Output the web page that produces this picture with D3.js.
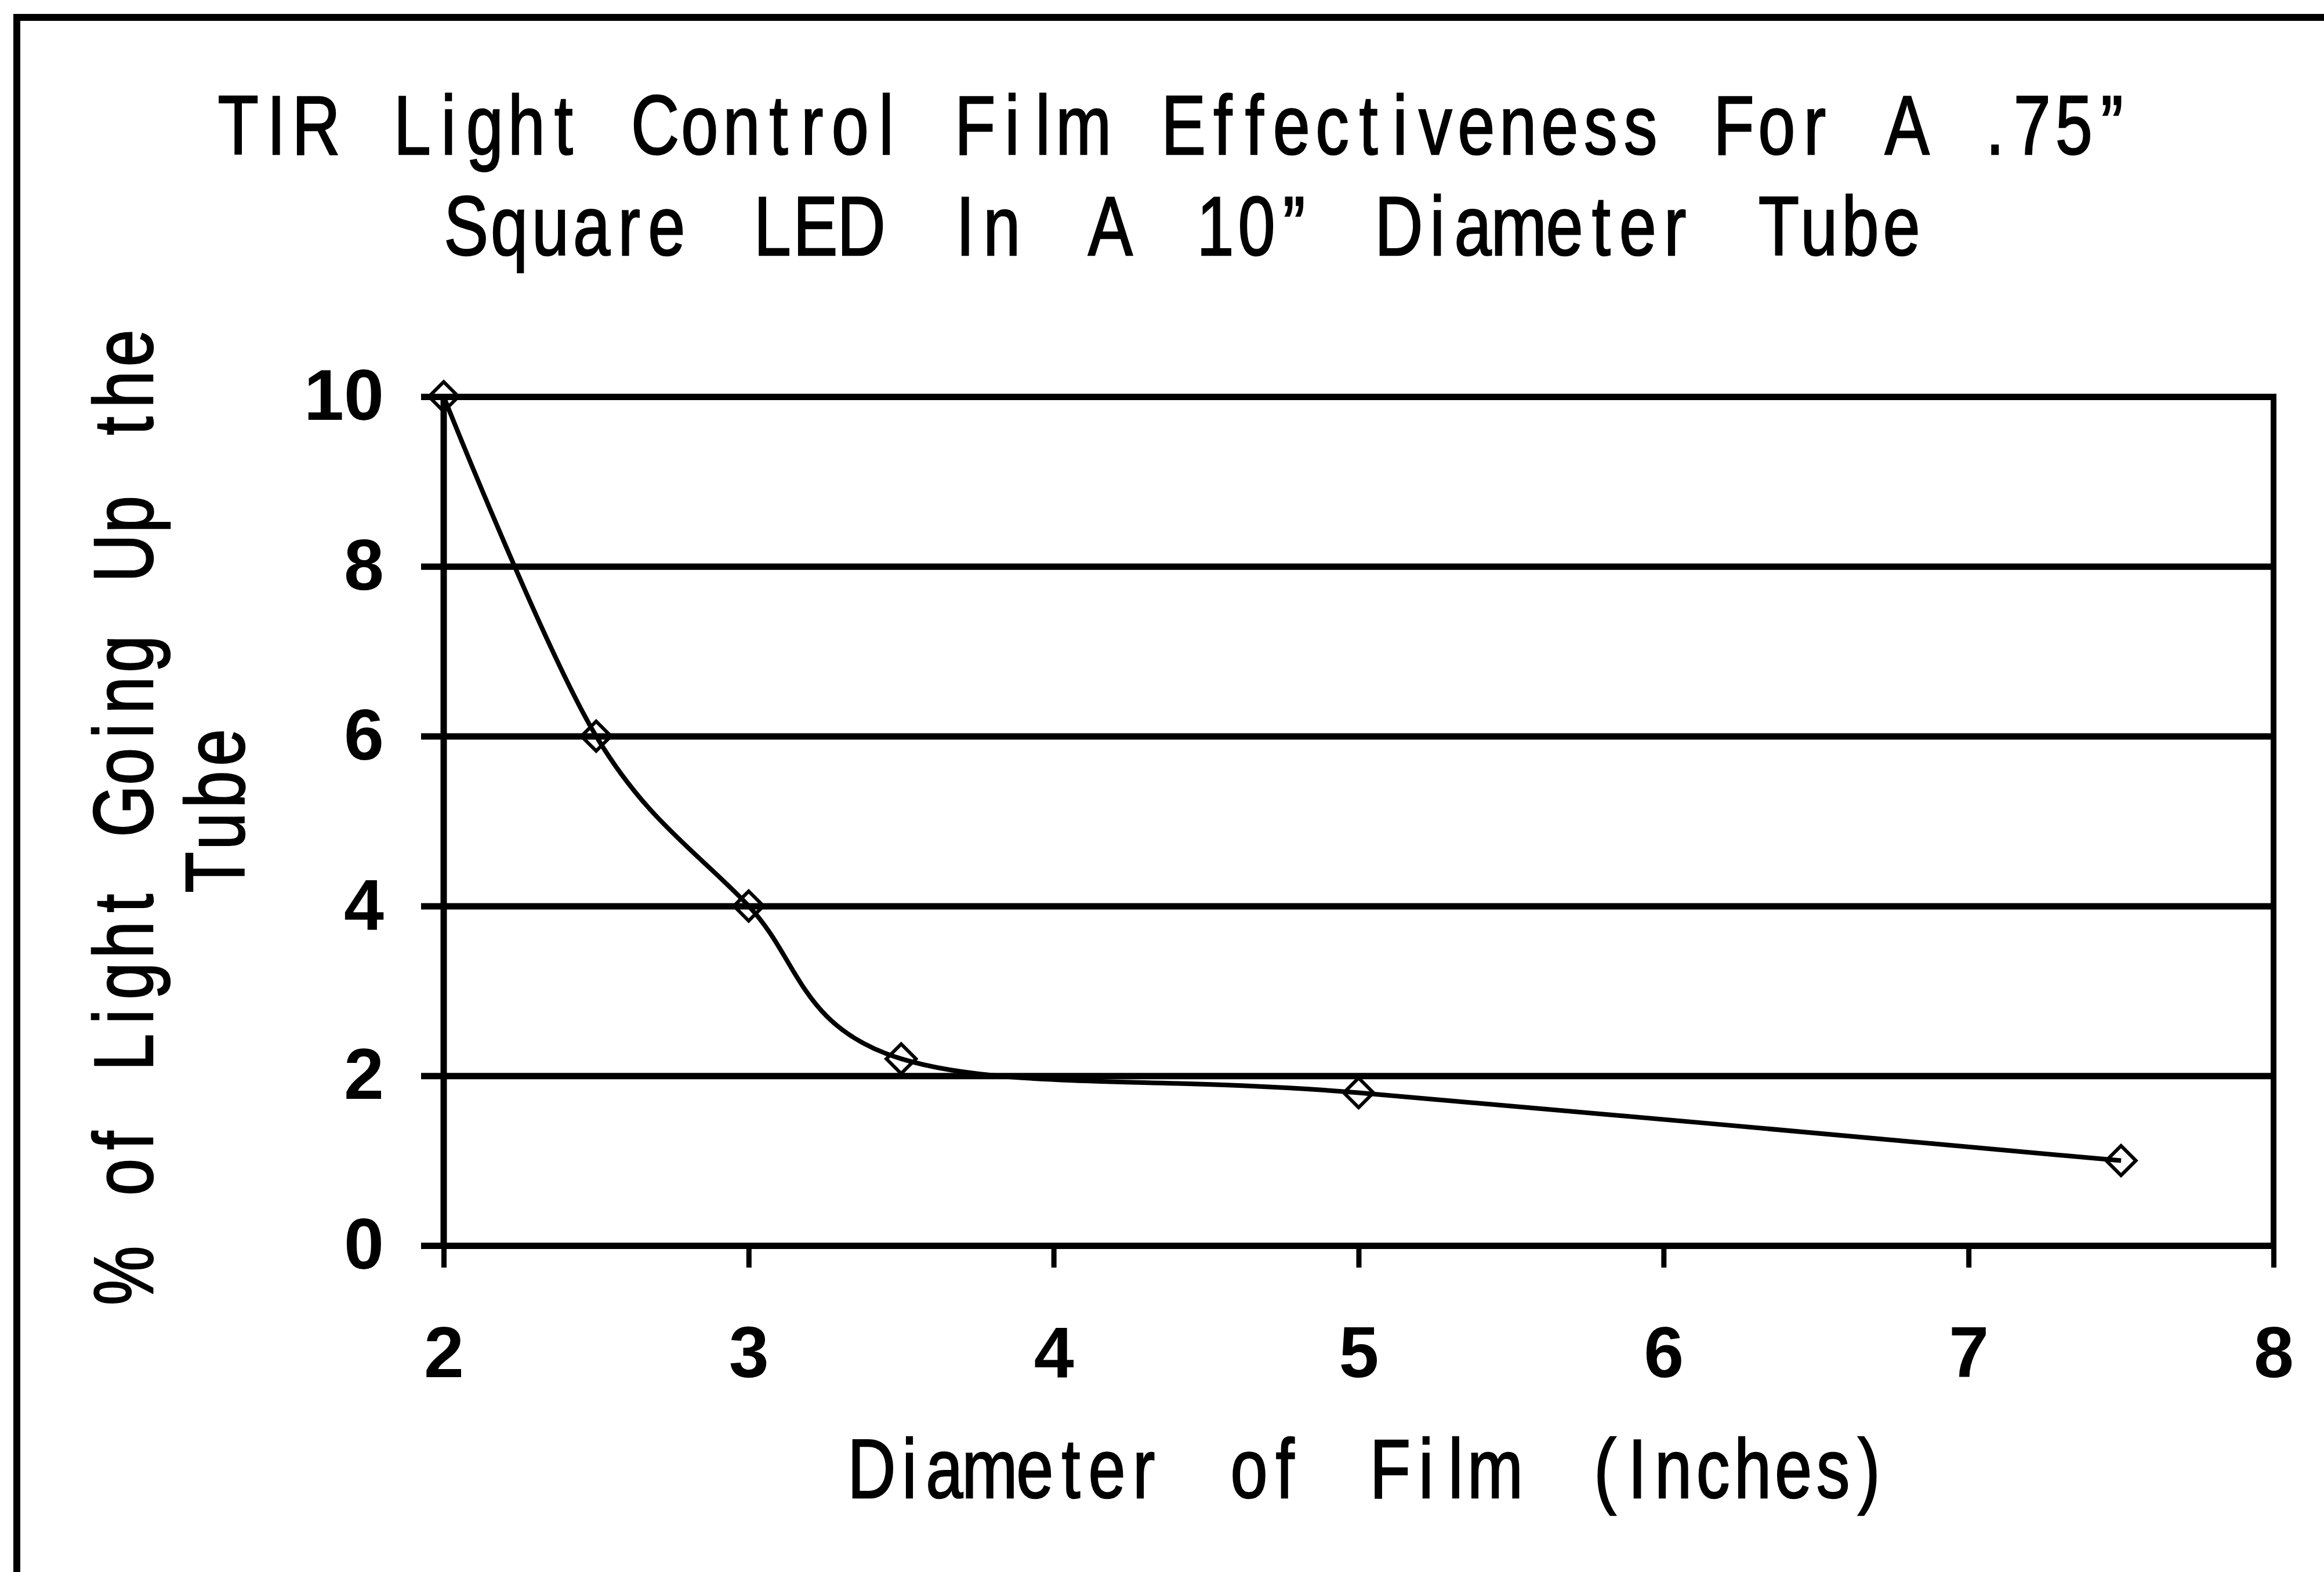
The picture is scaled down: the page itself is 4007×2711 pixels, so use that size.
<!DOCTYPE html>
<html>
<head>
<meta charset="utf-8">
<script src="https://cdn.jsdelivr.net/npm/d3@7"></script>
<style>
  body { margin: 0; background: white; }
  svg { display: block; }
  .lbl { font-family: "Liberation Sans", Arial, sans-serif; font-size: 144px; fill: black; stroke: black; stroke-width: 2.5; }
  .axis text { font-family: "Liberation Sans", Arial, sans-serif; font-weight: bold; font-size: 124px; fill: black; }
</style>
</head>
<body>
<svg id="chart"></svg>
<script>
// data
var diameters = [2, 2.5, 3, 3.5, 5, 7.5]
var lightPct = [10, 6, 4, 2.2, 1.8, 1.0]
var xTicks = [2, 3, 4, 5, 6, 7, 8]
var yTicks = [0, 2, 4, 6, 8, 10]
var titleLines = ["TIR Light Control Film Effectiveness For A .75\u201d", "Square LED In A 10\u201d Diameter Tube"]
var yLabelLines = ["% of Light Going Up the", "Tube"]
var xLabel = "Diameter of Film (Inches)"

var width = 4007
var height = 2711
var narrow = 0.8

var svg = d3.select("#chart")
    .attr("width", width)
    .attr("height", height)

svg.append("rect")
    .attr("width", width).attr("height", height)
    .attr("fill", "white")

// outer frame, runs off the right and bottom edges
svg.append("rect")
    .attr("x", 29).attr("y", 30)
    .attr("width", width + 100).attr("height", height + 100)
    .attr("fill", "none")
    .attr("stroke", "black")
    .attr("stroke-width", 12)

var plotL = 765, plotR = 3920, plotT = 684, plotB = 2148

var x = d3.scaleLinear().domain([2, 8]).range([plotL, plotR])
var y = d3.scaleLinear().domain([0, 10]).range([plotB, plotT])

// horizontal gridlines + y ticks
var yAxis = svg.append("g")
    .attr("class", "axis")
    .attr("transform", "translate(" + (plotL - 39) + ",0)")
    .call(d3.axisLeft(y).tickValues(yTicks).tickSize(-(plotR - plotL + 39)).tickPadding(64).tickFormat(d3.format("d")))
yAxis.select(".domain").remove()
yAxis.selectAll(".tick line").attr("stroke", "black").attr("stroke-width", 11)

// x ticks
var xAxis = svg.append("g")
    .attr("class", "axis")
    .attr("transform", "translate(0," + plotB + ")")
    .call(d3.axisBottom(x).tickValues(xTicks).tickSize(38).tickPadding(101).tickFormat(d3.format("d")))
xAxis.select(".domain").remove()
xAxis.selectAll(".tick line").attr("stroke", "black").attr("stroke-width", 9)

// left axis and right border of the plot box
svg.append("line")
    .attr("x1", x(2)).attr("x2", x(2))
    .attr("y1", y(10)).attr("y2", y(0))
    .attr("stroke", "black").attr("stroke-width", 11)
svg.append("line")
    .attr("x1", x(8)).attr("x2", x(8))
    .attr("y1", y(10) - 5).attr("y2", y(0))
    .attr("stroke", "black").attr("stroke-width", 10)

var pts = diameters.map(function(d, i) { return [d, lightPct[i]] })

var line = d3.line()
    .x(function(d) { return x(d[0]) })
    .y(function(d) { return y(d[1]) })
    .curve(d3.curveCardinal.tension(0))

svg.append("path")
    .datum(pts)
    .attr("d", line)
    .attr("fill", "none")
    .attr("stroke", "black")
    .attr("stroke-width", 8)

var diamond = d3.symbol().type(d3.symbolSquare).size(1300)
svg.selectAll(".marker")
    .data(pts)
    .enter()
    .append("path")
    .attr("class", "marker")
    .attr("d", diamond)
    .attr("transform", function(d) { return "translate(" + x(d[0]) + "," + y(d[1]) + ") rotate(45)" })
    .attr("fill", "none")
    .attr("stroke", "black")
    .attr("stroke-width", 6)

// plotter-style labels: each glyph gets a cell half its own width, half an even pitch,
// then the word gaps are widened until the line has the wanted length
function label(txt, tx, ty, rot, anchor, len, pitch) {
    var t = svg.append("text")
        .attr("class", "lbl")
        .attr("transform", "translate(" + tx + "," + ty + ")" + (rot ? " rotate(" + rot + ")" : "") + " scale(" + narrow + ",1)")
        .text(txt)
    var node = t.node()
    var chars = txt.split("")
    var widths = chars.map(function(c, i) { return node.getSubStringLength(i, 1) })
    var even = pitch / narrow
    var cells = widths.map(function(w) { return (w + even) / 2 })
    var used = 0, spaces = 0
    chars.forEach(function(c, i) { if (c == " ") spaces++; else used += cells[i] })
    var target = len / narrow
    var gap = spaces ? (target - used) / spaces : 0
    if (!spaces) cells = cells.map(function(c) { return c * target / used })
    var pos = 0, xs = []
    chars.forEach(function(c, i) {
        if (c == " ") { xs.push(pos); pos += gap; return }
        xs.push(pos + (cells[i] - widths[i]) / 2)
        pos += cells[i]
    })
    var shift = anchor == "middle" ? -pos / 2 : 0
    t.attr("x", xs.map(function(v) { return (v + shift).toFixed(1) }).join(" "))
}

label(titleLines[0], 373, 266, 0, "start", 3298, 80)
label(titleLines[1], 765, 440, 0, "start", 2549, 78)
label(xLabel, 1463, 2583, 0, "start", 1788, 76)
label(yLabelLines[0], 263, 1405, -90, "middle", 1680, 78)
label(yLabelLines[1], 421, 1398, -90, "middle", 290, 78)
</script>
</body>
</html>
